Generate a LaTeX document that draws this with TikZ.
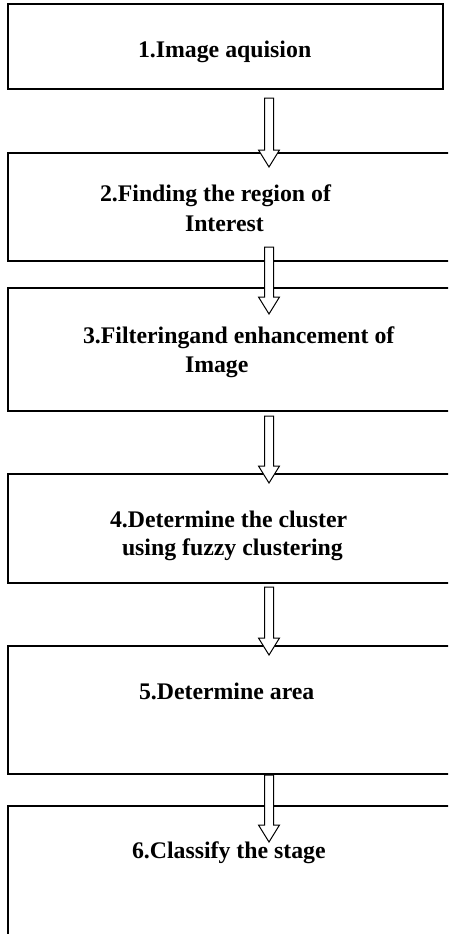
\documentclass[tikz,border=0pt]{standalone}
\usepackage{fontspec}
\setmainfont{Liberation Serif}
\usetikzlibrary{calc}
\tikzset{
  stepbox/.style={draw=black, line width=2pt, rectangle, inner sep=0pt, outer sep=0pt, anchor=north west},
  steptext/.style={anchor=base west, inner sep=0pt, outer sep=0pt, font=\bfseries\fontsize{23.8}{28}\selectfont},
  hollowarrow/.style={draw=black, fill=white, line width=1pt, line join=miter}
}
\newcommand{\blockarrow}[2]{%
  \path[hollowarrow] ($(#1)+(-4.5,0)$) -- ($(#1)+(4.5,0)$) -- ($(#2)+(4.5,-17)$) -- ($(#2)+(10.5,-17)$) -- (#2) -- ($(#2)+(-10.5,-17)$) -- ($(#2)+(-4.5,-17)$) -- cycle;}
\begin{document}
\begin{tikzpicture}[x=1pt,y=-1pt]
\useasboundingbox (0,0) rectangle (448,934);
\clip (0,0) rectangle (448,934);
\fill[white] (0,0) rectangle (448,934);
% boxes
\node[stepbox, minimum width=435pt, minimum height=85pt] (b1) at (8,4) {};
\node[stepbox, minimum width=460pt, minimum height=108pt] (b2) at (8,153) {};
\node[stepbox, minimum width=460pt, minimum height=123pt] (b3) at (8,288) {};
\node[stepbox, minimum width=460pt, minimum height=109pt] (b4) at (8,474) {};
\node[stepbox, minimum width=460pt, minimum height=128pt] (b5) at (8,646) {};
\node[stepbox, minimum width=460pt, minimum height=160pt] (b6) at (8,806) {};
% texts
\node[steptext] (t1) at (138,58) {1.Image aquision};
\node[steptext] (t2a) at (100,201) {2.Finding the region of};
\node[steptext] (t2b) at (185,231) {Interest};
\node[steptext] (t3a) at (83,343) {3.Filteringand enhancement of};
\node[steptext] (t3b) at (185,372) {Image};
\node[steptext] (t4a) at (110,527) {4.Determine the cluster};
\node[steptext] (t4b) at (122,555) {using fuzzy clustering};
\node[steptext] (t5) at (139,699) {5.Determine area};
\node[steptext] (t6) at (132,858) {6.Classify the stage};
% arrow coordinates
\coordinate (a1s) at (269,98);  \coordinate (a1e) at (269,167);
\coordinate (a2s) at (269,247); \coordinate (a2e) at (269,314);
\coordinate (a3s) at (269,416); \coordinate (a3e) at (269,483);
\coordinate (a4s) at (269,587); \coordinate (a4e) at (269,655);
\coordinate (a5s) at (269,775); \coordinate (a5e) at (269,842);
\blockarrow{a1s}{a1e}
\blockarrow{a2s}{a2e}
\blockarrow{a3s}{a3e}
\blockarrow{a4s}{a4e}
\blockarrow{a5s}{a5e}
\end{tikzpicture}
\end{document}
